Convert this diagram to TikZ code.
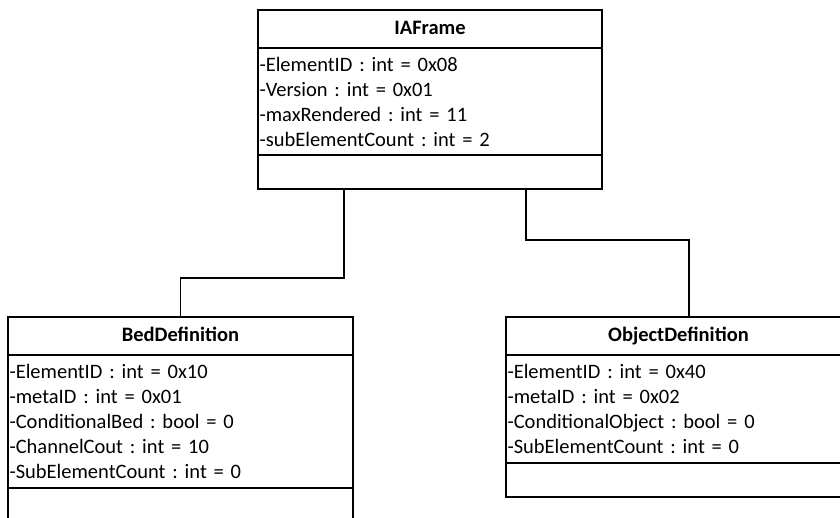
\documentclass[tikz,border=0pt]{standalone}
\usepackage{fontspec}
\setmainfont{Carlito}
\usepackage{tikz}
\usetikzlibrary{positioning}
\usepackage{xcolor}
\frenchspacing

\begin{document}
\begin{tikzpicture}[
    x=1pt, y=-1pt,
    node distance=0pt,
    part/.style={rectangle, draw, line width=1.5pt, inner sep=0pt, outer sep=0pt,
                 font=\fontsize{20.5}{25}\selectfont},
    title/.style={part, minimum height=38pt, text height=14pt, text depth=4pt,
                  font=\fontsize{20.5}{25}\selectfont\bfseries},
    attrs/.style={part, inner xsep=1.5pt, align=left},
    ops/.style={part, minimum height=34pt},
    link/.style={line width=1.5pt}
]
\useasboundingbox (0,0) rectangle (840,517);
\clip (0,0) rectangle (840,517);

% IAFrame
\node[title, minimum width=344pt, anchor=north west] (frame) at (258,10) {IAFrame};
\node[attrs, below=of frame, text width=341pt, minimum height=107pt] (frameattr)
    {-ElementID : int = 0x08\\-Version : int = 0x01\\-maxRendered : int = 11\\-subElementCount : int = 2};
\node[ops, below=of frameattr, minimum width=344pt] (frameops) {};

% BedDefinition
\node[title, minimum width=345pt, anchor=north west] (bed) at (8,317) {BedDefinition};
\node[attrs, below=of bed, text width=342pt, minimum height=133pt] (bedattr)
    {-ElementID : int = 0x10\\-metaID : int = 0x01\\-ConditionalBed : bool = 0\\-ChannelCout : int = 10\\-SubElementCount : int = 0};
\node[ops, below=of bedattr, minimum width=345pt] (bedops) {};

% ObjectDefinition
\node[title, minimum width=366pt, anchor=north west] (obj) at (506,317) {\hspace*{-21pt}ObjectDefinition};
\node[attrs, below=of obj, text width=363pt, minimum height=108pt] (objattr)
    {-ElementID : int = 0x40\\-metaID : int = 0x02\\-ConditionalObject : bool = 0\\-SubElementCount : int = 0};
\node[ops, below=of objattr, minimum width=366pt] (objops) {};

\draw[link] ([xshift=86pt]frameops.south west) |- ([yshift=39pt]bed.north) -- (bed.north);
\draw[link] ([xshift=268pt]frameops.south west) |- ([yshift=77pt]obj.north) -- (obj.north);

\end{tikzpicture}
\end{document}
